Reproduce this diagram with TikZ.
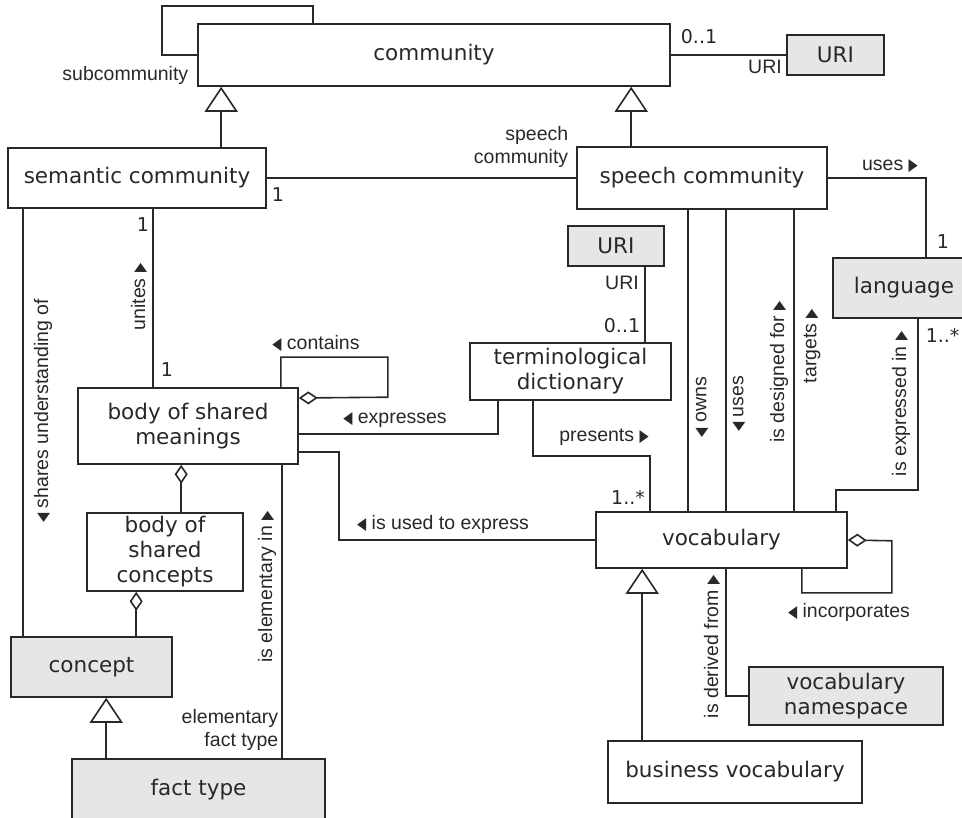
\documentclass[tikz,border=0pt]{standalone}
\usepackage{graphicx}
\usepackage{fontspec}
\setmainfont{Liberation Sans}
\newfontfamily\boxfont{DejaVu Sans}
\usetikzlibrary{arrows.meta}
\definecolor{boxgray}{RGB}{230,230,230}
\definecolor{ink}{RGB}{40,40,40}
\newcommand\tR{\scalebox{0.7}[1]{\boxfont\fontsize{17}{17}\selectfont ▶}}
\newcommand\tL{\scalebox{0.7}[1]{\boxfont\fontsize{17}{17}\selectfont ◀}}
\begin{document}
\begin{tikzpicture}[x=1pt,y=-1pt,line width=1.6pt,color=ink,
  box/.style={draw=ink,line width=1.6pt,inner sep=0pt,fill=white,align=center,
    font=\boxfont\fontsize{21.5}{25}\selectfont},
  gbox/.style={box,fill=boxgray},
  lbl/.style={inner sep=0pt,font=\fontsize{19.5}{23}\selectfont},
  mult/.style={inner sep=0pt,font=\boxfont\fontsize{19}{21}\selectfont},
  gen/.style={-{Triangle[length=25pt,width=33pt,fill=white]}},
  agg/.style={-{Diamond[length=19pt,width=13pt,fill=white]}}]
\useasboundingbox (0,0) rectangle (962,818);
\clip (0,0) rectangle (962,818);
% boxes
\node[box,minimum width=472pt,minimum height=62pt] (comm) at (434,55) {community};
\node[gbox,minimum width=97pt,minimum height=40pt] (uri1) at (835.5,55) {URI};
\node[box,minimum width=258pt,minimum height=60pt] (semc) at (137,178) {semantic community};
\node[box,minimum width=250pt,minimum height=62pt] (spc) at (702,178) {speech community};
\node[gbox,minimum width=96pt,minimum height=40pt] (uri2) at (616,246) {URI};
\node[gbox,minimum width=142pt,minimum height=60pt] (lang) at (904,288) {language};
\node[box,minimum width=201pt,minimum height=57pt] (term) at (570.5,371.5) {terminological\\dictionary};
\node[box,minimum width=220pt,minimum height=76pt] (bsm) at (188,426) {body of shared\\meanings};
\node[box,minimum width=251pt,minimum height=56pt] (voc) at (721.5,540) {vocabulary};
\node[box,minimum width=156pt,minimum height=78pt] (bsc) at (165,552) {body of\\shared\\concepts};
\node[gbox,minimum width=161pt,minimum height=60pt] (conc) at (91.5,667) {concept};
\node[gbox,minimum width=194pt,minimum height=58pt] (vns) at (846,696) {vocabulary\\namespace};
\node[box,minimum width=254pt,minimum height=62pt] (bvoc) at (735,772) {business vocabulary};
\node[gbox,minimum width=253pt,minimum height=61pt] (fact) at (198.5,789.5) {fact type};
% community self loop
\draw (comm.west) -- ++(-35,0) |- ([xshift=116pt,yshift=17pt]comm.north west) -- ([xshift=116pt]comm.north west);
\node[lbl,anchor=east] (lsub) at (189,75) {subcommunity};
% generalizations
\draw[gen] ([xshift=214pt]semc.north west) coordinate (g1) -- (g1 |- comm.south);
\draw[gen] ([xshift=55pt]spc.north west) coordinate (g2) -- (g2 |- comm.south);
\draw[gen] ([xshift=35pt]fact.north west) coordinate (g3) -- (g3 |- conc.south);
\draw[gen] ([xshift=35pt]bvoc.north west) coordinate (g4) -- (g4 |- voc.south);
% semantic - speech
\draw (semc.east) -- (semc.east -| spc.west);
\node[mult] (m1) at (278,195) {1};
\node[lbl,anchor=east,align=right] (lspc) at (569,147) {speech\\community};
% community - URI
\draw (comm.east) -- (comm.east -| uri1.west);
\node[mult] (m2) at (699,37) {0..1};
\node[lbl] (luri1) at (765,67) {URI};
% speech community uses language
\draw (spc.east) -| ([xshift=94pt]lang.north west);
\node[lbl] (luses) at (890,166) {uses \tR};
\node[mult] (m3) at (943,242) {1};
% speech community - vocabulary
\draw ([xshift=112pt]spc.south west) coordinate (s1) -- (s1 |- voc.north);
\draw ([xshift=150pt]spc.south west) coordinate (s2) -- (s2 |- voc.north);
\draw ([xshift=218pt]spc.south west) coordinate (s3) -- (s3 |- voc.north);
\node[lbl,rotate=90] (lowns) at (702,407) {\tL{} owns};
\node[lbl,rotate=90] (luses2) at (739,404) {\tL{} uses};
\node[lbl,rotate=90] (ldes) at (779,372) {is designed for \tR};
\node[lbl,rotate=90] (ltar) at (812,346) {targets \tR};
% language - vocabulary
\draw ([xshift=86pt]lang.south west) -- ++(0,171) -| ([xshift=241pt]voc.north west);
\node[lbl,rotate=90] (lexp) at (901,404) {is expressed in \tR};
\node[mult,anchor=west] (m4) at (925,335) {1..*};
% URI - terminological dictionary
\draw ([xshift=78pt]uri2.south west) coordinate (u2) -- (u2 |- term.north);
\node[lbl] (luri2) at (622,283) {URI};
\node[mult] (m5) at (622,326) {0..1};
% term dict expresses body of shared meanings
\draw ([xshift=29pt]term.south west) |- ([yshift=-8pt]bsm.east);
\node[lbl] (lexps) at (395,420) {\tL{} expresses};
% term dict presents vocabulary
\draw ([xshift=64pt]term.south west) -- ++(0,55) -| ([xshift=55pt]voc.north west);
\node[lbl] (lpres) at (604,437) {presents \tR};
\node[mult] (m6) at (628,497) {1..*};
% semantic community unites body of shared meanings
\draw ([xshift=146pt]semc.south west) coordinate (c1) -- (c1 |- bsm.north);
\node[lbl,rotate=90] (lunit) at (139,297) {unites \tR};
\node[mult] (m7) at (143,225) {1};
\node[mult] (m8) at (167,370) {1};
% semantic community shares understanding of concept
\draw ([xshift=16pt]semc.south west) coordinate (c2) -- (c2 |- conc.north);
\node[lbl,rotate=90] (lshare) at (43,411) {\tL{} shares understanding of};
% body of shared meanings contains
\draw[agg] ([xshift=-18pt]bsm.north east) -- ++(0,-30) -| ++(107,40) -- ([yshift=28pt]bsm.east);
\node[lbl] (lcont) at (316,343) {\tL{} contains};
% aggregations
\draw[agg] ([xshift=95pt]bsc.north west) coordinate (a1) -- (a1 |- bsm.south);
\draw[agg] ([xshift=126pt]conc.north west) coordinate (a2) -- (a2 |- bsc.south);
% is elementary in
\draw ([xshift=205pt]bsm.south west) coordinate (h1) -- (h1 |- fact.north);
\node[lbl,rotate=90] (lelem) at (267,587) {is elementary in \tR};
\node[lbl,anchor=east,align=right] (left) at (279,730) {elementary\\fact type};
% is used to express
\draw ([yshift=-26pt]bsm.east) -- ++(40,0) |- (voc.west);
\node[lbl] (lused) at (443,524) {\tL{} is used to express};
% vocabulary incorporates
\draw[agg] ([xshift=-46pt]voc.south east) -- ++(0,24) -| ++(90,-52) -- (voc.east);
\node[lbl] (linc) at (849,612) {\tL{} incorporates};
% vocabulary derived from namespace
\draw ([xshift=131pt]voc.south west) |- (vns.west);
\node[lbl,rotate=90] (lder) at (712,647) {is derived from \tR};
\end{tikzpicture}
\end{document}
